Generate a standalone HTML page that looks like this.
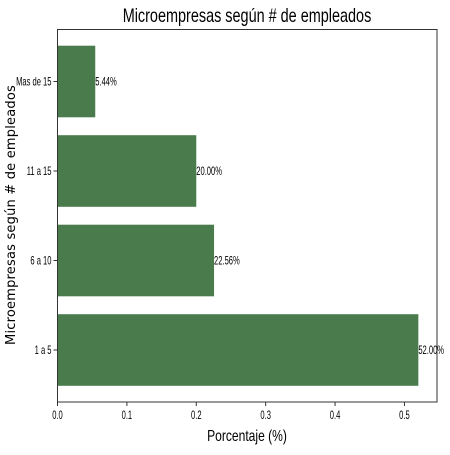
<!DOCTYPE html>
<html><head><meta charset="utf-8"><style>
html,body{margin:0;padding:0;background:#fff;}
svg text{font-family:"Liberation Sans",sans-serif;}
</style></head><body>
<svg id="chart" width="450" height="450" xmlns="http://www.w3.org/2000/svg">
<text x="247" y="22" font-size="19" text-anchor="middle" transform="translate(247,0) scale(0.76,1) translate(-247,0)">Microempresas según # de empleados</text>
<text x="247" y="441" font-size="15.5" text-anchor="middle" transform="translate(247,0) scale(0.78,1) translate(-247,0)">Porcentaje (%)</text>
<text transform="translate(15,215) rotate(-90)" font-size="13" text-anchor="middle" style="font-family:'DejaVu Sans',sans-serif;letter-spacing:0.2px">Microempresas según # de empleados</text>
<g id="plot"></g>
<rect x="57.5" y="29.5" width="379.5" height="372.5" fill="none" stroke="#333" stroke-width="1"/>
</svg>
<script>
const categories = ["1 a 5", "6 a 10", "11 a 15", "Mas de 15"];
const values = [0.52, 0.2256, 0.20, 0.0544];
const valueLabels = ["52.00%", "22.56%", "20.00%", "5.44%"];
const xTicks = [0.0, 0.1, 0.2, 0.3, 0.4, 0.5];
const xTickLabels = ["0.0", "0.1", "0.2", "0.3", "0.4", "0.5"];

const NS = "http://www.w3.org/2000/svg";
const L = 57.5, R = 437, T = 29.5, B = 402;
const xMax = 0.5469;
const xs = v => L + v / xMax * (R - L);
const step = 89.5;
const yc = i => 350 - i * step;
const g = document.getElementById("plot");
function mk(tag, attrs, text) {
  const e = document.createElementNS(NS, tag);
  for (const k in attrs) e.setAttribute(k, attrs[k]);
  if (text !== undefined) e.textContent = text;
  g.appendChild(e);
  return e;
}
const S = 0.66, FS = 11.5;
categories.forEach((c, i) => {
  const h = step * 0.8;
  const bar = mk("rect", {x: L, y: yc(i) - h / 2, width: xs(values[i]) - L, height: h, fill: "#4a7b4c"});
  
  
  const lbl = mk("text", {x: xs(values[i]), y: yc(i) + 4, "font-size": FS, transform: `translate(${xs(values[i])},0) scale(${S},1) translate(${-xs(values[i])},0)`}, valueLabels[i]);
  
  
  const tk = mk("line", {x1: L - 4, x2: L, y1: yc(i), y2: yc(i), stroke: "#333"});
  
  
  const tl = mk("text", {x: L - 6, y: yc(i) + 4, "font-size": FS, "text-anchor": "end", transform: `translate(${L - 6},0) scale(${S},1) translate(${-(L - 6)},0)`}, c);
  
  
});
xTicks.forEach((t, i) => {
  const x = xs(t);
  const tk = mk("line", {x1: x, x2: x, y1: B, y2: B + 4, stroke: "#333"});
  
  
  const tl = mk("text", {x: x, y: B + 17, "font-size": FS, "text-anchor": "middle", transform: `translate(${x},0) scale(${S},1) translate(${-x},0)`}, xTickLabels[i]);
  
  
});
</script>
</body></html>
